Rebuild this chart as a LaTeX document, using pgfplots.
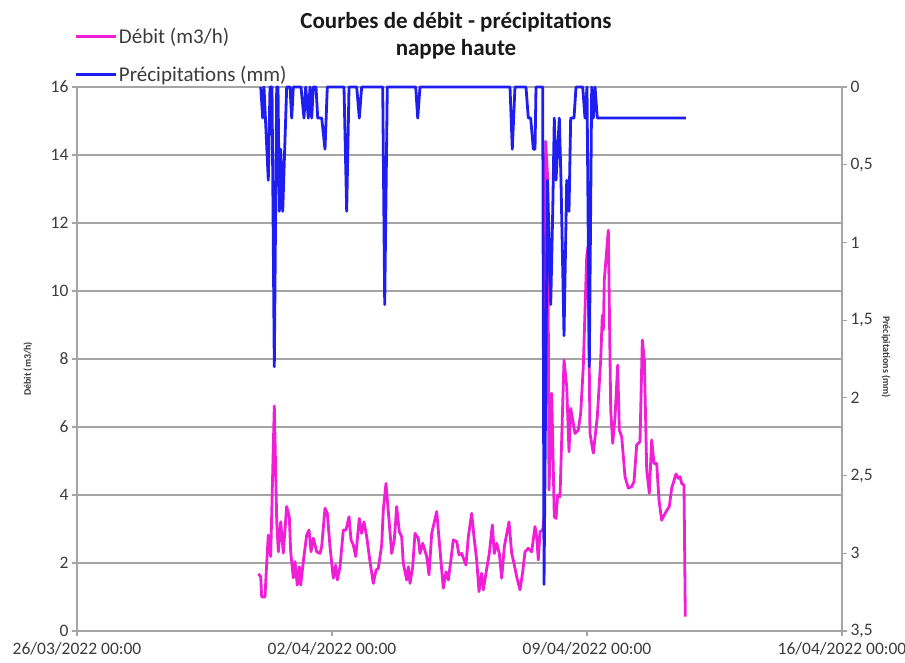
\documentclass[border=0pt]{standalone}
\usepackage{pgfplots}
\pgfplotsset{compat=1.18}
\usepackage{fontspec}
\setmainfont{Carlito}
\definecolor{deb}{RGB}{240,30,215}
\definecolor{pre}{RGB}{30,30,240}
\definecolor{gridc}{RGB}{165,165,165}
\definecolor{txt}{RGB}{60,60,60}
\begin{document}
\begin{tikzpicture}[x=1pt,y=1pt]
\useasboundingbox (0,0) rectangle (905,663);
\begin{axis}[
  at={(77pt,32pt)}, anchor=south west,
  scale only axis, width=765pt, height=544pt,
  xmin=0, xmax=21, ymin=0, ymax=16,
  xtick={0,7,14,21},
  xticklabels={26/03/2022 00:00,02/04/2022 00:00,09/04/2022 00:00,16/04/2022 00:00},
  ytick={0,2,4,6,8,10,12,14,16},
  axis y line*=left, axis x line*=bottom,
  ymajorgrids, grid style={gridc, line width=1.3pt},
  axis line style={gridc, line width=1.2pt},
  tick style={gridc, line width=1.2pt},
  major tick length=5pt, tick align=outside,
  ticklabel style={font=\fontsize{17.5}{19}\selectfont, text=txt},
  xticklabel style={yshift=-3pt},
  /pgf/number format/assume math mode=true,
  clip=false,
]
\addplot[deb, line width=2.8pt, line join=round] coordinates {
(4.977,1.68) (5.043,1.60) (5.070,1.00) (5.161,1.00) (5.188,1.60) (5.251,2.82) (5.317,2.19) (5.416,6.62) (5.482,3.26) (5.526,2.33) (5.592,3.21) (5.663,2.29) (5.756,3.66) (5.828,3.36) (5.866,2.33) (5.938,1.56) (5.984,2.04) (6.047,1.35) (6.102,1.89) (6.141,1.35) (6.212,2.04) (6.305,2.82) (6.369,2.97) (6.424,2.33) (6.487,2.73) (6.580,2.33) (6.671,2.28) (6.717,2.48) (6.808,3.61) (6.871,3.46) (6.945,2.48) (7.036,1.55) (7.102,1.94) (7.146,1.50) (7.220,1.89) (7.310,2.97) (7.384,2.97) (7.467,3.36) (7.522,2.68) (7.585,2.53) (7.651,2.19) (7.749,3.31) (7.815,2.87) (7.878,3.21) (7.953,2.77) (8.043,2.04) (8.134,1.40) (8.208,1.79) (8.271,1.84) (8.364,2.53) (8.408,3.56) (8.482,4.34) (8.546,3.51) (8.639,2.28) (8.710,2.68) (8.776,3.66) (8.847,2.92) (8.913,2.77) (8.957,1.99) (9.051,1.50) (9.095,1.89) (9.141,1.40) (9.215,1.89) (9.278,2.87) (9.369,2.73) (9.416,2.28) (9.490,2.58) (9.600,2.19) (9.663,1.65) (9.737,2.87) (9.874,3.51) (9.965,2.38) (10.055,1.26) (10.129,1.74) (10.193,1.50) (10.258,2.04) (10.330,2.68) (10.423,2.63) (10.486,2.24) (10.560,2.28) (10.678,1.94) (10.742,2.77) (10.835,3.46) (10.898,2.77) (10.972,2.09) (11.035,1.16) (11.109,1.70) (11.153,1.21) (11.227,1.70) (11.318,2.28) (11.401,3.12) (11.455,2.28) (11.521,2.58) (11.593,2.28) (11.658,1.55) (11.730,2.48) (11.859,3.21) (11.933,2.28) (11.996,1.99) (12.070,1.60) (12.161,1.21) (12.235,1.74) (12.298,2.33) (12.389,2.43) (12.481,2.33) (12.573,3.07) (12.619,2.77) (12.663,2.09) (12.710,2.92) (12.784,2.97) (12.828,3.40) (12.866,14.40) (12.921,13.30) (12.957,4.15) (13.031,6.99) (13.102,3.36) (13.149,3.31) (13.195,4.00) (13.259,3.95) (13.369,7.97) (13.443,7.19) (13.506,5.27) (13.552,6.55) (13.671,5.81) (13.761,5.91) (13.827,6.40) (13.898,7.78) (13.991,11.00) (14.027,11.30) (14.082,5.81) (14.173,5.23) (14.283,6.30) (14.376,7.97) (14.420,9.29) (14.448,8.85) (14.475,10.32) (14.585,11.79) (14.651,6.50) (14.706,5.52) (14.769,6.30) (14.843,7.82) (14.887,5.91) (14.953,5.71) (15.043,4.54) (15.134,4.20) (15.227,4.25) (15.290,4.39) (15.364,5.47) (15.455,5.57) (15.518,8.56) (15.574,7.97) (15.639,4.74) (15.710,4.05) (15.776,5.62) (15.839,4.93) (15.913,4.93) (15.976,3.85) (16.050,3.26) (16.169,3.51) (16.259,3.66) (16.325,4.20) (16.443,4.62) (16.506,4.49) (16.553,4.54) (16.600,4.34) (16.663,4.29) (16.698,0.42)
};
\end{axis}
\begin{axis}[
  at={(77pt,32pt)}, anchor=south west,
  scale only axis, width=765pt, height=544pt,
  xmin=0, xmax=21, ymin=0, ymax=3.5, y dir=reverse,
  axis x line=none, axis y line*=right,
  ytick={0,0.5,1,1.5,2,2.5,3,3.5},
  axis line style={gridc, line width=1.2pt},
  tick style={gridc, line width=1.2pt},
  major tick length=5pt, tick align=outside,
  ticklabel style={font=\fontsize{17.5}{19}\selectfont, text=txt},
  /pgf/number format/assume math mode=true,
  /pgf/number format/use comma,
  clip=false,
  legend style={at={(rel axis cs:-0.004,1.112)}, anchor=north west, draw=none, fill=none,
    font=\fontsize{21}{23}\selectfont, text=txt, row sep=17pt, inner sep=0pt},
  legend cell align=left,
  legend image code/.code={\draw[#1] (0pt,0pt) -- (40pt,0pt);},
]
\addlegendimage{deb, line width=2.8pt}
\addlegendentry{Débit (m3/h)}
\addplot[pre, line width=2.8pt, line join=round] coordinates {
(5.043,0) (5.098,0.2) (5.133,0) (5.251,0.6) (5.298,0) (5.353,0) (5.416,1.8) (5.482,0) (5.518,0) (5.554,0.8) (5.592,0.4) (5.647,0.8) (5.756,0) (5.847,0) (5.894,0.2) (5.938,0) (6.149,0) (6.231,0.2) (6.278,0) (6.349,0.2) (6.396,0) (6.443,0.2) (6.487,0) (6.561,0) (6.608,0.2) (6.717,0.2) (6.808,0.4) (6.871,0) (7.329,0) (7.403,0.8) (7.467,0) (7.678,0) (7.749,0.2) (7.815,0) (8.392,0) (8.447,1.4) (8.518,0) (9.298,0) (9.353,0.2) (9.416,0) (11.886,0) (11.949,0.4) (12.023,0) (12.325,0) (12.389,0.2) (12.454,0.2) (12.526,0.4) (12.573,0.4) (12.600,0) (12.784,0) (12.820,3.2) (12.916,0.6) (13.004,1.4) (13.059,0.8) (13.102,0.2) (13.149,0.6) (13.195,0.4) (13.240,0.2) (13.286,0.6) (13.369,1.6) (13.443,0.6) (13.506,0.8) (13.552,0.2) (13.643,0.2) (13.698,0) (13.882,0) (13.945,0.2) (14.000,0) (14.063,1.8) (14.129,0) (14.173,0.2) (14.220,0) (14.283,0.2) (16.717,0.2)
};
\addlegendentry{Précipitations (mm)}
\end{axis}
\node[font=\bfseries\fontsize{23}{27}\selectfont, align=center, text=black!90] at (456,627.5) {Courbes de débit - précipitations\\nappe haute};
\node[rotate=90, font=\bfseries\fontsize{10}{12}\selectfont, text=txt] at (28,294) {Débit (m3/h)};
\node[rotate=-90, font=\bfseries\fontsize{10}{12}\selectfont, text=txt] at (886,306) {Précipitations (mm)};
\end{tikzpicture}
\end{document}
